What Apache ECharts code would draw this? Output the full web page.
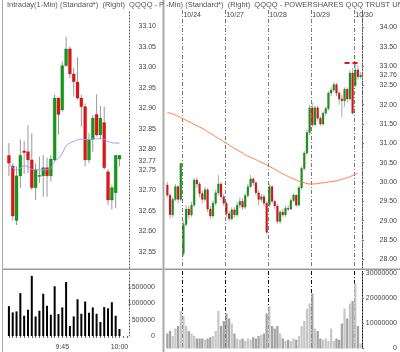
<!DOCTYPE html>
<html><head><meta charset="utf-8">
<script src="https://cdn.jsdelivr.net/npm/echarts@6/dist/echarts.min.js"></script>
<style>html,body{margin:0;padding:0;background:#fff}#c{width:400px;height:352px}</style>
</head><body><div id="c"></div>
<script>
// ---------- LEFT PANEL: intraday 1-min ----------
const leftTimes = ['9:31','9:32','9:33','9:34','9:35','9:36','9:37','9:38','9:39','9:40','9:41','9:42','9:43','9:44','9:45','9:46','9:47','9:48','9:49','9:50','9:51','9:52','9:53','9:54','9:55','9:56','9:57','9:58','9:59','10:00','10:01','10:02'];
const leftTimeLabels = ['9:45','10:00'];
const leftOpen  = [32.785,32.759,32.626,32.735,32.796,32.794,32.774,32.706,32.735,32.735,32.755,32.735,32.774,32.925,32.896,33.004,33.045,32.984,32.964,32.925,32.904,32.774,32.824,32.885,32.835,32.865,32.745,32.676,32.694,32.776];
const leftClose = [32.766,32.637,32.735,32.785,32.792,32.774,32.706,32.750,32.736,32.755,32.735,32.776,32.925,32.885,33.004,33.045,32.984,32.965,32.925,32.904,32.774,32.824,32.876,32.835,32.876,32.755,32.676,32.706,32.785,32.785];
const leftHigh  = [32.815,32.766,32.758,32.824,32.820,32.859,32.839,32.766,32.782,32.786,32.780,32.786,32.934,32.926,33.014,33.075,33.051,32.998,33.025,32.933,32.912,32.839,32.884,32.934,32.906,32.904,32.751,32.713,32.786,32.786];
const leftLow   = [32.735,32.626,32.615,32.705,32.740,32.742,32.701,32.676,32.717,32.684,32.684,32.721,32.770,32.835,32.892,33.002,32.973,32.929,32.921,32.855,32.758,32.766,32.794,32.831,32.824,32.750,32.664,32.653,32.656,32.758];
const leftMA    = [32.766,32.754,32.750,32.754,32.759,32.758,32.751,32.750,32.750,32.750,32.750,32.754,32.770,32.778,32.790,32.808,32.815,32.819,32.823,32.824,32.824,32.824,32.825,32.826,32.826,32.824,32.819,32.816,32.815,32.815];
const leftVolume = [920000,726000,757000,1320000,624000,808000,1850000,603000,777000,1300000,930000,654000,1530000,675000,880000,1660000,307000,603000,1130000,685000,1060000,716000,880000,685000,430000,890000,850000,1040000,624000,215000];
const leftPriceTicks = [32.55,32.60,32.65,32.70,32.75,32.80,32.85,32.90,32.95,33.00,33.05,33.10];
const leftLastPrice = 32.77;
const leftVolTicks = [0,500000,1000000,1500000];

// ---------- RIGHT PANEL: 5 days ----------
const rightDays = ['10/23','10/24','10/27','10/28','10/29','10/30'];
const rightBarsPerDay = [6,16,16,16,16,3];
const rightOpen  = [29.92,29.66,29.15,29.55,29.88,29.55, 28.15,28.90,29.30,29.15,29.40,30.05,29.95,29.70,29.55,29.80,29.30,29.12,29.45,29.72,29.95,29.62, 29.45,29.18,29.05,29.28,29.15,29.40,29.50,29.35,29.65,29.88,30.08,29.98,29.72,29.55,29.62,29.45, 29.40,29.88,29.50,29.38,28.98,29.22,29.15,29.32,29.30,29.52,29.66,29.40,29.85,30.35,30.75,31.28, 31.92,31.48,31.92,31.65,31.50,31.78,31.90,32.30,32.38,32.52,32.30,32.15,32.10,32.40,32.15,32.82, 32.50,32.90,32.72];
const rightClose = [29.66,29.15,29.55,29.88,29.55,30.48, 28.90,29.30,29.15,29.40,30.05,29.95,29.70,29.55,29.80,29.30,29.12,29.45,29.72,29.95,29.62,29.45, 29.18,29.05,29.28,29.15,29.40,29.50,29.35,29.65,29.88,30.08,29.98,29.72,29.55,29.62,29.45,28.70, 29.88,29.50,29.38,28.98,29.22,29.15,29.32,29.30,29.52,29.66,29.40,29.85,30.35,30.75,31.28,31.92, 31.48,31.92,31.65,31.50,31.78,31.90,32.30,32.38,32.52,32.30,32.15,32.10,32.40,32.15,32.82,31.78, 32.90,32.72,32.76];
const rightHigh  = [30.00,29.72,29.60,29.95,29.92,30.50, 29.00,29.40,29.38,29.48,30.10,30.12,30.00,29.78,29.88,29.85,29.38,29.52,29.80,30.18,30.00,29.68, 29.50,29.25,29.35,29.35,29.48,29.60,29.58,29.70,29.95,30.18,30.12,30.02,29.80,29.70,29.68,29.50, 29.95,29.92,29.55,29.42,29.28,29.30,29.38,29.40,29.58,29.72,29.68,29.90,30.40,30.80,31.35,32.00, 32.05,31.98,31.98,31.70,31.82,31.95,32.35,32.45,32.58,32.56,32.35,32.25,32.45,32.45,32.90,32.95, 33.05,33.02,32.85];
const rightLow   = [29.60,29.05,29.08,29.50,29.45,29.50, 28.08,28.85,29.05,29.10,29.35,29.85,29.60,29.45,29.50,29.22,29.05,29.08,29.40,29.65,29.55,29.38, 29.10,28.98,29.00,29.08,29.10,29.32,29.28,29.30,29.60,29.85,29.90,29.65,29.40,29.48,29.38,28.65, 29.35,29.45,29.30,28.92,28.92,29.10,29.10,29.25,29.28,29.48,29.35,29.38,29.80,30.30,30.70,31.20, 31.42,31.45,31.58,31.45,31.45,31.72,31.85,32.22,32.32,32.22,32.00,31.68,31.95,32.05,32.10,31.75, 32.45,32.65,32.68];
const rightMA    = [31.80,31.78,31.76,31.73,31.70,31.67, 31.63,31.60,31.56,31.53,31.49,31.46,31.42,31.39,31.35,31.30,31.26,31.22,31.17,31.13,31.09,31.04, 31.00,30.96,30.91,30.87,30.83,30.79,30.75,30.70,30.67,30.64,30.61,30.58,30.54,30.51,30.48,30.44, 30.40,30.37,30.33,30.29,30.25,30.21,30.18,30.14,30.11,30.08,30.05,30.02,30.00,29.98,29.96,29.95, 29.95,29.95,29.96,29.97,29.98,29.99,30.00,30.01,30.02,30.03,30.05,30.07,30.09,30.11,30.14,30.17, 30.20,30.23,null];
const rightVolume = [6000000,7000000,5000000,8000000,9000000,15000000, 13000000,9000000,7000000,6000000,5000000,4000000,4000000,4000000,3500000,4000000,4500000,5000000,7000000,15000000,9000000,11000000, 14000000,12000000,10000000,6000000,4000000,3500000,4000000,3000000,4000000,3500000,4500000,4000000,5000000,5500000,6000000,14000000, 17000000,9000000,8000000,9000000,6000000,4000000,3000000,3500000,3000000,4000000,3500000,5000000,9000000,11000000,16000000,18000000, 22000000,8000000,7000000,4000000,3500000,4000000,3000000,8000000,3000000,4000000,3500000,10000000,16000000,12000000,18000000,19000000, 26000000,9000000,2000000];
const rightPriceTicks = [28.00,28.50,29.00,29.50,30.00,30.50,31.00,31.50,32.00,32.50,33.00,33.50,34.00];
const rightLastPrice = 32.76;
const rightHighMark = 33.08;
const rightVolTicks = [0,10000000,20000000,30000000];

// ---------- build ----------
const rightCats = [], dayStart = {};
rightDays.forEach((d, k) => {
  for (let j = 0; j < rightBarsPerDay[k]; j++) {
    if (j === 0) dayStart[rightCats.length] = d;
    rightCats.push(d + ' #' + (j + 1));
  }
});
const isDayStart = (i) => dayStart[i] !== undefined && i > 0;

const leftData = leftOpen.map((o, i) => [i, o, leftClose[i], leftLow[i], leftHigh[i]]);
const rightData = rightOpen.map((o, i) => [i, o, rightClose[i], rightLow[i], rightHigh[i]]);

const UP = '#12a012', DOWN = '#ee1111';
function candleRenderer(ratio, wickColor) {
  return function (params, api) {
    const i = api.value(0), o = api.value(1), c = api.value(2), l = api.value(3), h = api.value(4);
    const pO = api.coord([i, o]), pC = api.coord([i, c]);
    const pL = api.coord([i, l]), pH = api.coord([i, h]);
    const w = Math.max(1.5, api.size([1, 0])[0] * ratio);
    const top = Math.min(pO[1], pC[1]);
    const hgt = Math.max(1, Math.abs(pO[1] - pC[1]));
    return {
      type: 'group',
      children: [
        { type: 'line', shape: { x1: pH[0], y1: pH[1], x2: pL[0], y2: pL[1] }, style: { stroke: wickColor, lineWidth: 1 } },
        { type: 'rect', shape: { x: pO[0] - w / 2, y: top, width: w, height: hgt },
          style: { fill: c >= o ? UP : DOWN, stroke: 'rgba(0,0,0,0.35)', lineWidth: 0.5 } }
      ]
    };
  };
}

const FONT = 'Liberation Sans';
const LBL = { fontFamily: FONT, fontSize: 7, color: '#444' };
const dotted = { show: true, lineStyle: { color: '#555', type: [1, 2], width: 1 } };

const chart = echarts.init(document.getElementById('c'), null, { renderer: 'canvas' });
chart.setOption({
  animation: false,
  backgroundColor: '#fff',
  grid: [
    { left: 7, top: 10, width: 122, height: 258 },
    { left: 7, top: 271, width: 122, height: 65 },
    { left: 166, top: 10, width: 198, height: 258 },
    { left: 166, top: 271, width: 198, height: 78.5 }
  ],
  xAxis: [
    { gridIndex: 0, type: 'category', data: leftTimes, boundaryGap: true, axisLine: { show: false }, axisTick: { show: false }, axisLabel: { show: false } },
    { gridIndex: 1, type: 'category', data: leftTimes, boundaryGap: true,
      axisLine: { show: false },
      axisTick: { show: true, alignWithLabel: true, interval: 0, length: 2, lineStyle: { color: '#666' } },
      axisLabel: Object.assign({}, LBL, { interval: (i, v) => leftTimeLabels.indexOf(v) >= 0, margin: 8 }) },
    { gridIndex: 2, type: 'category', data: rightCats, boundaryGap: true, axisLine: { show: false }, axisTick: { show: false }, axisLabel: { show: false },
      splitLine: { show: true, interval: (i) => isDayStart(i), lineStyle: { color: '#777', type: [4, 2, 1, 2], width: 1 } } },
    { gridIndex: 2, type: 'category', position: 'top', data: rightCats, boundaryGap: true, axisLine: { show: false }, axisTick: { show: false },
      axisLabel: Object.assign({}, LBL, { inside: true, margin: 2, align: 'left', interval: (i) => isDayStart(i), formatter: (v) => v.split(' ')[0] }) },
    { gridIndex: 3, type: 'category', data: rightCats, boundaryGap: true, axisLine: { show: false }, axisTick: { show: false }, axisLabel: { show: false },
      splitLine: { show: true, interval: (i) => isDayStart(i), lineStyle: { color: '#111', type: [4, 2, 1, 2], width: 1 } } }
  ],
  yAxis: [
    { gridIndex: 0, type: 'value', position: 'right', min: 32.51, max: 33.14, splitLine: { show: false }, axisLine: dotted,
      axisTick: { show: false },
      axisLabel: Object.assign({}, LBL, { customValues: leftPriceTicks.concat([leftLastPrice]), align: 'right', margin: 27, formatter: (v) => v.toFixed(2) }) },
    { gridIndex: 1, type: 'value', position: 'right', min: 0, max: 2000000, splitLine: { show: false }, axisLine: dotted,
      axisTick: { show: false },
      axisLabel: Object.assign({}, LBL, { customValues: leftVolTicks, align: 'right', margin: 26, formatter: (v) => String(v) }) },
    { gridIndex: 2, type: 'value', position: 'right', min: 27.775, max: 34.45, splitLine: { show: false }, axisLine: dotted,
      axisTick: { show: true, customValues: rightPriceTicks, length: 2, lineStyle: { color: '#777' } },
      axisLabel: Object.assign({}, LBL, { customValues: rightPriceTicks.concat([rightLastPrice]), align: 'right', margin: 35, formatter: (v) => v.toFixed(2) }) },
    { gridIndex: 3, type: 'value', position: 'right', min: 0, max: 31000000, splitLine: { show: false }, axisLine: dotted,
      axisTick: { show: true, customValues: rightVolTicks, length: 2, lineStyle: { color: '#777' } },
      axisLabel: Object.assign({}, LBL, { customValues: rightVolTicks, align: 'right', margin: 35, formatter: (v) => String(v) }) }
  ],
  series: [
    { type: 'custom', xAxisIndex: 0, yAxisIndex: 0, data: leftData, renderItem: candleRenderer(0.78, '#999'), encode: { x: 0, y: [1, 2, 3, 4] }, clip: true },
    { type: 'line', xAxisIndex: 0, yAxisIndex: 0, data: leftMA, symbol: 'none', smooth: true, lineStyle: { color: '#9a9aff', width: 1 }, z: 3 },
    { type: 'bar', xAxisIndex: 1, yAxisIndex: 1, data: leftVolume, barWidth: 2, itemStyle: { color: '#000' } },
    { type: 'custom', xAxisIndex: 2, yAxisIndex: 2, data: rightData, renderItem: candleRenderer(0.7, '#aaa'), encode: { x: 0, y: [1, 2, 3, 4] }, clip: true },
    { type: 'line', xAxisIndex: 2, yAxisIndex: 2, data: rightMA, symbol: 'none', smooth: true, lineStyle: { color: '#ff7a3a', width: 1 }, z: 3,
      markLine: { silent: true, symbol: 'none', label: { show: false },
        lineStyle: { color: '#ee1111', width: 2, type: [5, 3] },
        data: [[{ coord: [66, rightHighMark] }, { coord: [72, rightHighMark] }]] } },
    { type: 'bar', xAxisIndex: 4, yAxisIndex: 3, data: rightVolume, barWidth: '85%',
      itemStyle: { color: (p) => rightClose[p.dataIndex] >= rightOpen[p.dataIndex] ? '#c8c8c8' : '#a4a4a4' } }
  ],
  graphic: [
    { type: 'rect', shape: { x: 2, y: 0, width: 1, height: 352 }, style: { fill: '#aaa' }, silent: true },
    { type: 'rect', shape: { x: 162.5, y: 0, width: 2, height: 352 }, style: { fill: '#aaa' }, silent: true },
    { type: 'rect', shape: { x: 3, y: 268.5, width: 159.5, height: 1.5 }, style: { fill: '#999' }, silent: true },
    { type: 'rect', shape: { x: 164.5, y: 268.5, width: 236, height: 1.5 }, style: { fill: '#999' }, silent: true },
    { type: 'text', left: 7, top: 1, style: { text: 'Intraday(1-Min) (Standard*)  (Right)  QQQQ - P', font: '7.5px "Liberation Sans"', fill: '#555' } },
    { type: 'text', left: 166, top: 1, style: { text: '-Min) (Standard*)  (Right)  QQQQ - POWERSHARES QQQ TRUST UNI', font: '7.5px "Liberation Sans"', fill: '#555' } }
  ]
});
</script></body></html>
